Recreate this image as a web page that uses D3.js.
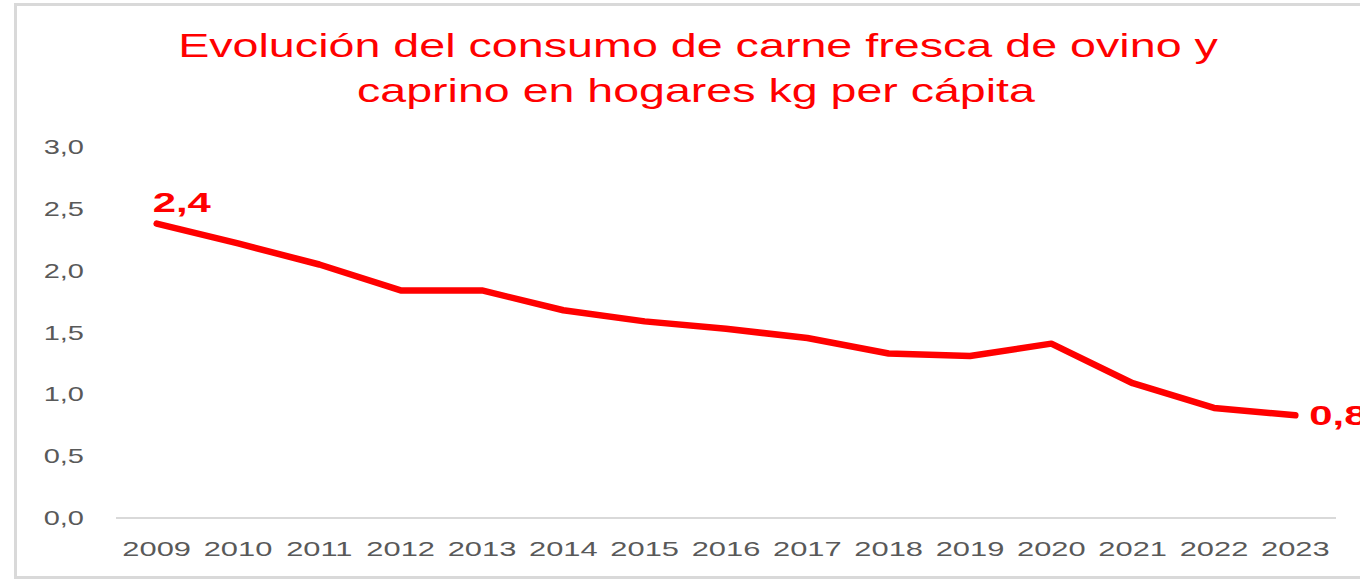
<!DOCTYPE html>
<html>
<head>
<meta charset="utf-8">
<script src="https://cdn.jsdelivr.net/npm/d3@7"></script>
<style>
  html, body { margin: 0; padding: 0; background: #fff; }
  svg { display: block; }
</style>
</head>
<body>
<div id="chart"></div>
<script>
var years = ["2009","2010","2011","2012","2013","2014","2015","2016","2017","2018","2019","2020","2021","2022","2023"];
var consumo = [2.38, 2.22, 2.05, 1.84, 1.84, 1.68, 1.59, 1.53, 1.455, 1.33, 1.31, 1.41, 1.09, 0.89, 0.83];
var yTicks = [0, 0.5, 1, 1.5, 2, 2.5, 3];
var titleLines = ["Evolución del consumo de carne fresca de ovino y", "caprino en hogares kg per cápita"];
var endLabels = ["2,4", "0,8"];

var width = 1360, height = 580;
var stretch = 1.45;   // the original picture is stretched sideways
var red = "#ff0000", grey = "#595959";

var svg = d3.select("#chart").append("svg")
	.attr("width", width)
	.attr("height", height);

// frame
svg.append("rect")
	.attr("x", 15.5).attr("y", 4.5)
	.attr("width", 1400).attr("height", 573)
	.style("fill", "#fff")
	.style("stroke", "#d9d9d9")
	.style("stroke-width", 3);

var x = d3.scaleBand().domain(years).range([116, 1336]);
var y = d3.scaleLinear().domain([0, 3]).range([518, 147]);

// stretched text helper
function stext(g, px, py, str, anchor, k) {
	return g.append("text")
		.attr("text-anchor", anchor)
		.attr("transform", "translate(" + px + "," + py + ") scale(" + (k || stretch) + ",1)")
		.text(str);
}

// title, fitted to the width it has in the picture
var titleBox = [[178, 1218, 57], [357, 1035, 102]];
titleLines.forEach(function(s, i) {
	var b = titleBox[i];
	var t = svg.append("text")
		.attr("text-anchor", "middle")
		.style("font-family", "Liberation Sans, Arial, sans-serif")
		.style("font-size", "34px")
		.style("fill", red)
		.text(s);
	var w = t.node().getComputedTextLength();
	var k = (b[1] - b[0]) / w;
	t.attr("transform", "translate(" + ((b[0] + b[1]) / 2) + "," + b[2] + ") scale(" + k + ",1)");
});

// y axis labels (no axis line)
var yg = svg.append("g")
	.style("font-family", "Liberation Sans, Arial, sans-serif")
	.style("font-size", "20px")
	.style("fill", grey);
yTicks.forEach(function(v) {
	stext(yg, 84, y(v) + 7, d3.format(".1f")(v).replace(".", ","), "end");
});

// baseline
svg.append("line")
	.attr("x1", x.range()[0]).attr("x2", x.range()[1])
	.attr("y1", y(0)).attr("y2", y(0))
	.style("stroke", "#d9d9d9")
	.style("stroke-width", 2);

// x labels
var xg = svg.append("g")
	.style("font-family", "Liberation Sans, Arial, sans-serif")
	.style("font-size", "21px")
	.style("fill", grey);
years.forEach(function(yr) {
	stext(xg, x(yr) + x.bandwidth() / 2, 556, yr, "middle", 1.47);
});

// line
var line = d3.line()
	.x(function(d, i) { return x(years[i]) + x.bandwidth() / 2; })
	.y(function(d) { return y(d); });

svg.append("path")
	.datum(consumo)
	.attr("d", line)
	.style("fill", "none")
	.style("stroke", red)
	.style("stroke-width", 6.5)
	.style("stroke-linejoin", "round")
	.style("stroke-linecap", "round");

// data labels at first and last point (the last one runs off the edge, as in the original)
var lg = svg.append("g")
	.style("font-family", "Liberation Sans, Arial, sans-serif")
	.style("font-size", "27px")
	.style("font-weight", "bold")
	.style("fill", red);
var n = consumo.length - 1;
stext(lg, x(years[0]) + x.bandwidth() / 2 - 4, y(consumo[0]) - 12, endLabels[0], "start", 1.55);
stext(lg, x(years[n]) + x.bandwidth() / 2 + 14, y(consumo[n]) + 10, endLabels[1], "start", 1.55);
</script>
</body>
</html>
